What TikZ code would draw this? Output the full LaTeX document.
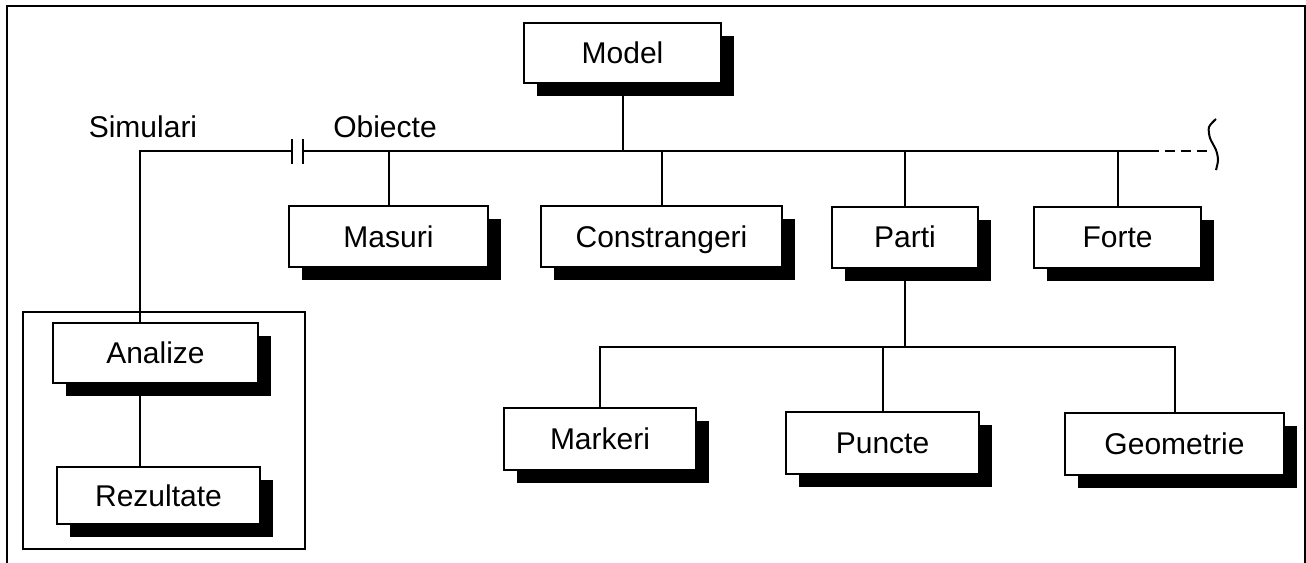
\documentclass[tikz,border=0pt]{standalone}
\usepackage{fontspec}
\setmainfont{Liberation Sans}
\usetikzlibrary{shadows}

\tikzset{
  eticheta/.style={font=\fontsize{22.5}{27}\selectfont, inner sep=0pt},
  cutie/.style={eticheta, text height=16.2pt, text depth=0pt, draw, line width=1.5pt, fill=white,
    drop shadow={shadow xshift=9.75pt, shadow yshift=-9.75pt, fill=black, opacity=1}},
  fir/.style={line width=1.5pt},
}

\begin{document}
\begin{tikzpicture}[x=0.75pt,y=0.75pt,yscale=-1,xscale=1]
\useasboundingbox (0,0) rectangle (1306,563);

%Shape: Frame
\draw [fir] (7,563) -- (7,6) -- (1305,6) -- (1305,563) ;
%Shape: Rectangle (Simulari group)
\draw [fir] (23,312) rectangle (305,549) ;

%Boxes
\node [cutie, minimum width=147.75pt, minimum height=45pt] (model) at (622.5,53) {Model};
\node [cutie, minimum width=149.25pt, minimum height=45.75pt] (masuri) at (388.5,236.5) {Masuri};
\node [cutie, minimum width=180.75pt, minimum height=45.75pt] (constrangeri) at (661.5,236.5) {Constrangeri};
\node [cutie, minimum width=109.5pt, minimum height=45.75pt] (parti) at (905,237) {Parti};
\node [cutie, minimum width=125.25pt, minimum height=45.75pt] (forte) at (1117.5,237) {Forte};
\node [cutie, minimum width=144pt, minimum height=46.5pt] (markeri) at (600,439) {Markeri};
\node [cutie, minimum width=144.75pt, minimum height=46.5pt] (puncte) at (882.5,443) {Puncte};
\node [cutie, minimum width=164.25pt, minimum height=46.5pt] (geometrie) at (1174.5,444) {Geometrie};
\node [cutie, minimum width=153.75pt, minimum height=45pt] (analize) at (155.5,353) {Analize};
\node [cutie, minimum width=152.25pt, minimum height=42.75pt] (rezultate) at (158.5,495.5) {Rezultate};

% Text Node
\node [eticheta] (simulari) at (143,127) {Simulari};
% Text Node
\node [eticheta] (obiecte) at (385,127) {Obiecte};

%Main line
\coordinate (sim) at (140,151);
\coordinate (c1) at (292,151);
\coordinate (c2) at (303,151);
\coordinate (fin) at (1149,151);
\coordinate (rupt) at (1212,151);
\coordinate (sub) at (909,347);

\draw [fir] (analize.north -| sim) -- (sim) -- (c1) ;
\draw [fir] (c1) ++(0,-12) -- ++(0,25) ;
\draw [fir] (c2) ++(0,-12) -- ++(0,25) ;
\draw [fir] (c2) -- (fin) ;
\draw [fir] [dash pattern={on 7.5pt off 4.5pt}] (fin) -- (rupt) ;
\draw [fir] plot [smooth] coordinates {(1216,119) (1209,127) (1210,138) (1216,150) (1218,160) (1216,170)} ;

%Branches
\draw [fir] (model.south) -- (model.south |- fin) ;
\draw [fir] (masuri.north) -- (masuri.north |- fin) ;
\draw [fir] (constrangeri.north) -- (constrangeri.north |- fin) ;
\draw [fir] (parti.north) -- (parti.north |- fin) ;
\draw [fir] (forte.north) -- (forte.north |- fin) ;

\draw [fir] (parti.south) -- (parti.south |- sub) ;
\draw [fir] (markeri.north) -- (markeri.north |- sub) -- (geometrie.north |- sub) -- (geometrie.north) ;
\draw [fir] (puncte.north) -- (puncte.north |- sub) ;

\draw [fir] (analize.south -| sim) -- (rezultate.north -| sim) ;

\end{tikzpicture}
\end{document}
